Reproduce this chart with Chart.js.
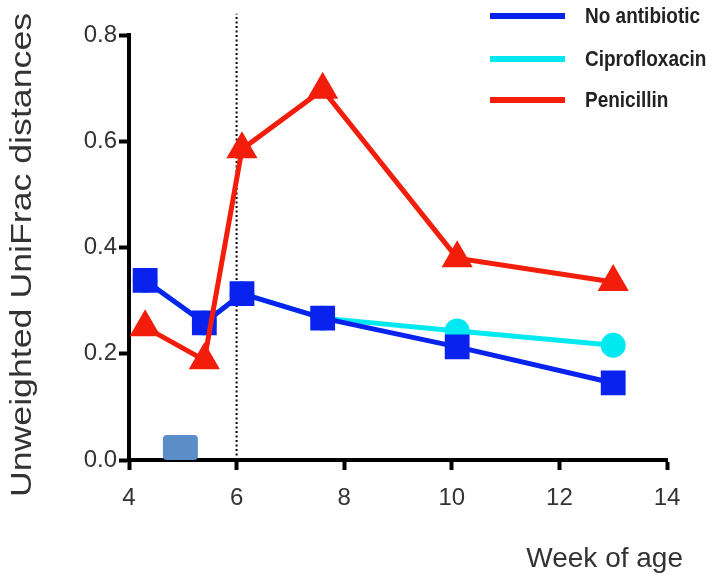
<!DOCTYPE html>
<html>
<head>
<meta charset="utf-8">
<script src="https://cdn.jsdelivr.net/npm/chart.js@4.4.1/dist/chart.umd.min.js"></script>
<style>
  html, body { margin: 0; padding: 0; background: #fff; }
  #wrap { width: 712px; height: 577px; }
</style>
</head>
<body>
<div id="wrap"><canvas id="unifracChart" width="712" height="577"></canvas></div>
<script>
// weeks of age sampled
const weeks = [4.3, 5.4, 6.1, 7.6, 10.1, 13];
const noAntibiotic = [0.338, 0.258, 0.313, 0.267, 0.213, 0.145];
const ciprofloxacin = [0.338, 0.258, 0.313, 0.267, 0.243, 0.216];
const penicillin = [0.25, 0.188, 0.585, 0.697, 0.38, 0.335];

const xTicks = [4, 6, 8, 10, 12, 14];
const yTicks = [0.0, 0.2, 0.4, 0.6, 0.8];

// antibiotic treatment window (blue box) and weaning marker (dotted line)
const treatWindow = [4.63, 5.28];
const treatHeight = 0.047;
const markerWeek = 6;
const markerTop = 0.84;

const FONT = "'Liberation Sans', Arial, Helvetica, sans-serif";

const pts = (ys) => weeks.map((w, i) => ({ x: w, y: ys[i] }));

const extrasPlugin = {
    id: "extras",
    beforeDatasetsDraw(chart) {
        const { ctx, scales: { x, y } } = chart;
        ctx.save();
        // treatment box
        const x0 = x.getPixelForValue(treatWindow[0]);
        const x1 = x.getPixelForValue(treatWindow[1]);
        const y0 = y.getPixelForValue(0);
        const y1 = y.getPixelForValue(treatHeight);
        ctx.fillStyle = "#5b8ec8";
        ctx.beginPath();
        ctx.roundRect(x0, y1, x1 - x0, y0 - y1, 4);
        ctx.fill();
        // dotted line at week 6
        const mx = x.getPixelForValue(markerWeek);
        ctx.strokeStyle = "#000";
        ctx.lineWidth = 2;
        ctx.setLineDash([2, 2.5]);
        ctx.beginPath();
        ctx.moveTo(mx, y.getPixelForValue(0));
        ctx.lineTo(mx, y.getPixelForValue(markerTop));
        ctx.stroke();
        ctx.restore();
    },
    afterDraw(chart) {
        const { ctx } = chart;
        ctx.save();
        // legend, in the original order
        const items = ["No antibiotic", "Ciprofloxacin", "Penicillin"].map(
            (name) => chart.data.datasets.find((d) => d.label === name)
        );
        const rows = [16, 59, 100];
        items.forEach((ds, i) => {
            ctx.strokeStyle = ds.borderColor;
            ctx.lineWidth = 6;
            ctx.beginPath();
            ctx.moveTo(490, rows[i]);
            ctx.lineTo(565, rows[i]);
            ctx.stroke();
            ctx.save();
            ctx.translate(585, rows[i] + 1);
            ctx.scale(1, 1.15);
            ctx.fillStyle = "#222";
            ctx.font = "bold 19px " + FONT;
            ctx.textBaseline = "middle";
            ctx.textAlign = "left";
            ctx.fillText(ds.label, 0, 0);
            ctx.restore();
        });
        // x axis title, bottom right
        ctx.fillStyle = "#333";
        ctx.font = "28px " + FONT;
        ctx.textAlign = "right";
        ctx.textBaseline = "middle";
        ctx.fillText("Week of age", 683, 559);
        // y axis title, stretched along its length like the original
        ctx.save();
        ctx.translate(23, 255);
        ctx.rotate(-Math.PI / 2);
        ctx.scale(1.19, 1);
        ctx.font = "30px " + FONT;
        ctx.textAlign = "center";
        ctx.fillText("Unweighted UniFrac distances", 0, 0);
        ctx.restore();
        ctx.restore();
    },
};

new Chart(document.getElementById("unifracChart"), {
    type: "line",
    data: {
        datasets: [
            {
                label: "Penicillin",
                data: pts(penicillin),
                borderColor: "#f21d0a",
                backgroundColor: "#f21d0a",
                borderWidth: 5,
                pointStyle: "triangle",
                pointRadius: 13,
                pointHoverRadius: 13,
                order: 0,
            },
            {
                label: "No antibiotic",
                data: pts(noAntibiotic),
                borderColor: "#0a22ee",
                backgroundColor: "#0a22ee",
                borderWidth: 5,
                pointStyle: "rect",
                pointRadius: 14,
                pointHoverRadius: 14,
                order: 1,
            },
            {
                label: "Ciprofloxacin",
                data: pts(ciprofloxacin),
                borderColor: "#00e8f0",
                backgroundColor: "#00e8f0",
                borderWidth: 5,
                pointStyle: "circle",
                pointRadius: 10,
                pointHoverRadius: 10,
                order: 2,
            },
        ],
    },
    options: {
        responsive: false,
        animation: false,
        layout: { padding: { top: 35, right: 45, bottom: 0, left: 0 } },
        plugins: {
            legend: { display: false },
            tooltip: { enabled: false },
        },
        scales: {
            x: {
                type: "linear",
                min: 4,
                max: 14,
                afterBuildTicks: (axis) => { axis.ticks = xTicks.map((v) => ({ value: v })); },
                afterFit: (axis) => { axis.height = 117; },
                ticks: {
                    color: "#333",
                    padding: 14,
                    font: { size: 24, family: FONT },
                },
                grid: {
                    drawOnChartArea: false,
                    tickLength: 10,
                    tickWidth: 4,
                    tickColor: "#000",
                },
                border: { display: true, color: "#000", width: 4 },
            },
            y: {
                min: 0,
                max: 0.8,
                afterBuildTicks: (axis) => { axis.ticks = yTicks.map((v) => ({ value: v })); },
                afterFit: (axis) => { axis.width = 129; },
                ticks: {
                    color: "#333",
                    padding: 2,
                    font: { size: 24, family: FONT },
                    callback: (v) => Number(v).toFixed(1),
                },
                grid: {
                    drawOnChartArea: false,
                    tickLength: 10,
                    tickWidth: 4,
                    tickColor: "#000",
                },
                border: { display: true, color: "#000", width: 4 },
            },
        },
    },
    plugins: [extrasPlugin],
});
</script>
</body>
</html>
